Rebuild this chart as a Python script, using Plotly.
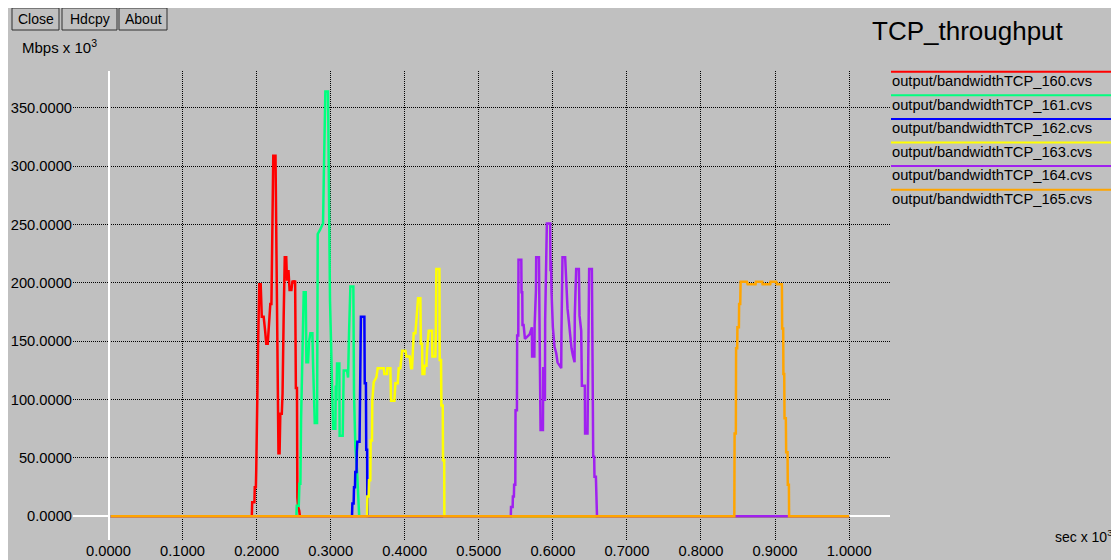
import plotly.graph_objects as go

# ---------------- data (time in seconds, throughput in Mbps x 10^3) ----------------
SERIES_NAMES = [
    "output/bandwidthTCP_160.cvs",
    "output/bandwidthTCP_161.cvs",
    "output/bandwidthTCP_162.cvs",
    "output/bandwidthTCP_163.cvs",
    "output/bandwidthTCP_164.cvs",
    "output/bandwidthTCP_165.cvs",
]

t160 = [3, 193.5, 194, 197, 197.5, 199, 199.5, 200.5, 202, 203.5, 205.5, 207, 209.5, 211.5, 213, 215, 216.5,
        218.5, 220, 221, 222.5, 225.5, 226.5, 227.5, 228.5, 229.5, 231, 232, 234, 235, 236.5, 238, 240, 241,
        243, 244.5, 247, 248.5, 250, 252, 253, 254.5, 255, 256, 257.5, 258.5, 1000]
v160 = [0, 0, 12, 12, 25, 25, 40, 94, 147, 199, 199, 171, 171, 159, 148, 148, 162,
        182, 182, 247, 309, 309, 225, 139, 139, 54, 54, 88, 88, 105, 170, 222, 222, 202,
        211, 194, 194, 202, 200, 202, 110, 110, 16, 8, 5, 0, 0]

t161 = [3, 253.7, 254.2, 256.9, 257.8, 259.1, 260, 261.8, 263.6, 266.3, 267.2, 269.5, 270.8, 272.6, 275.3,
        276.2, 277.5, 278.5, 281.6, 282, 282.5, 285.2, 289.7, 290.6, 291.5, 292.8, 296.4, 297.3, 299.1,
        300.5, 301.8, 303.2, 306.3, 306.8, 307.7, 308.6, 311.7, 312.1, 316.2, 316.7, 317.6, 322.1, 323.5,
        324.8, 326.6, 330.6, 331.5, 333.3, 335.6, 338.5, 1000]
v161 = [0, 0, 9, 9, 28, 28, 82, 138, 192, 192, 132, 132, 150, 157, 157,
        131, 105, 80, 80, 162, 242, 245, 251, 287, 325, 364, 364, 275, 185,
        149, 112, 75, 75, 112, 99, 131, 131, 69, 69, 108, 125, 125, 119,
        157, 197, 197, 105, 60, 39, 0, 0]

t162 = [3, 328.8, 329.3, 331, 331.5, 332.8, 333.2, 334.9, 335.3, 336, 339, 339.5, 340.8, 345.5, 346, 347.6,
        348, 349.2, 349.5, 1000]
v162 = [0, 0, 11, 11, 25, 25, 38, 38, 55, 64, 64, 118, 171, 171, 114, 114,
        57, 57, 0, 0]

t163 = [3, 349, 349.5, 351.3, 351.8, 353.5, 354, 355.8, 356.2, 358.1, 361.7, 363.5, 371.6, 372.5, 376.1,
        376.6, 380.6, 381.5, 386, 387.4, 390.5, 391.9, 394.1, 396.4, 400.9, 402.2, 406.7, 408.5, 409.9,
        412.1, 414.4, 415.7, 418, 421.1, 421.8, 423.4, 424, 426.5, 427, 429.2, 430.1, 432.4, 436.9, 437.3,
        441.4, 442, 442.3, 442.7, 446.8, 447.2, 449, 449.5, 451.3, 451.7, 453.3, 453.5, 1000]
v163 = [0, 0, 17, 17, 31, 31, 65, 65, 99, 115, 119, 127, 127, 122, 122,
        127, 127, 99, 99, 114, 114, 127, 127, 142, 142, 137, 137, 127, 127,
        157, 157, 172, 187, 187, 148, 148, 122, 122, 129, 129, 142, 159, 159, 137,
        137, 159, 187, 212, 212, 134, 134, 95, 95, 48, 48, 0, 0]

t164 = [3, 543.2, 543.5, 545.7, 546, 547.4, 547.7, 549.3, 549.6, 551.5, 551.8, 553.3, 553.6, 557.4, 557.7,
        558.7, 559, 560.5, 562.3, 565.9, 568.6, 571.7, 572, 575, 575.4, 577.2, 577.5, 581.2, 581.5, 582.6,
        583.4, 586.6, 587, 587.9, 588.3, 589.3, 589.6, 590.6, 591.9, 596.4, 596.8, 597.5, 598.2, 600,
        602.3, 604.5, 606.3, 611.3, 611.6, 612.6, 613, 616.6, 618, 619.8, 621.6, 623.4, 625.2, 627,
        629.3, 629.6, 631.5, 635.1, 636, 638.3, 639.2, 643.2, 643.5, 646.8, 647.2, 648.6, 649, 652.7,
        653.5, 654.5, 655.8, 656.2, 658.1, 658.5, 659.4, 659.6, 1000]
v164 = [0, 0, 8, 8, 17, 17, 27, 27, 91, 91, 155, 155, 220, 220, 192,
        192, 164, 164, 152, 154, 156, 162, 137, 137, 164, 194, 222, 222, 172, 124,
        74, 74, 127, 127, 100, 100, 168, 210, 251, 251, 210, 219, 192, 162,
        145, 140, 132, 127, 157, 189, 222, 222, 198, 178, 167, 155, 144, 138,
        132, 172, 212, 212, 172, 159, 112, 112, 71, 71, 117, 164, 212, 212,
        131, 51, 51, 34, 34, 17, 17, 0, 0]

t165 = [3, 845, 845.4, 847.1, 847.4, 848.9, 849.2, 851.2, 851.5, 853, 853.5, 862, 863, 873.7, 874.2, 882.7,
        883.2, 893.5, 894, 901.6, 902.5, 909.3, 909.6, 911, 911.3, 912.4, 912.8, 914.6, 915, 916.9, 917.2,
        918.7, 919, 1000]
v165 = [0, 0, 71, 71, 144, 144, 162, 162, 182, 182, 201, 201, 199, 199, 201, 201,
        199, 199, 201, 201, 199, 199, 161, 161, 122, 122, 84, 84, 55, 55, 27,
        27, 0, 0]

X_TICKS = [0, 0.1, 0.2, 0.3, 0.4, 0.5, 0.6, 0.7, 0.8, 0.9, 1.0]   # sec x 10^3
Y_TICKS = [0, 50, 100, 150, 200, 250, 300, 350]                    # Mbps x 10^3
SEC_PER_UNIT = 1000.0

# ---------------- styling ----------------
COLORS = ["#FF0000", "#00FF7F", "#0000FF", "#FFFF00", "#A020F0", "#FFA500"]
BG = "#C0C0C0"
FONT = "Liberation Sans, Arial, Helvetica, sans-serif"

PAGE_OFF = 8                                # default body margin of the html page
W, H = 1119 - PAGE_OFF, 560 - PAGE_OFF      # figure size
PL, PR, PT, PB = 73, 890, 71, 540           # plot area in page pixels
X0PX, XSCALE = 108.5, 740.6                 # page pixel of x=0, px per axis unit
Y0PX, YSCALE = 516.3, 1.1667                # page pixel of y=0, px per axis unit


def fx(p):
    return (p - PL) / (PR - PL)


def fy(p):
    return (PB - p) / (PB - PT)


series = [(t160, v160), (t161, v161), (t162, v162), (t163, v163), (t164, v164), (t165, v165)]

fig = go.Figure()
for name, (t, v), c in zip(SERIES_NAMES, series, COLORS):
    fig.add_trace(go.Scatter(
        x=[s / SEC_PER_UNIT for s in t], y=v, mode="lines", name=name,
        line=dict(color=c, width=2.5), showlegend=False, hoverinfo="skip"))

x_range = [(PL - X0PX) / XSCALE, (PR - X0PX) / XSCALE]
y_range = [(Y0PX - PB) / YSCALE, (Y0PX - PT) / YSCALE]

tickfont = dict(family=FONT, size=14.7, color="black")
fig.update_layout(
    width=W, height=H,
    margin=dict(l=PL - PAGE_OFF, r=W - (PR - PAGE_OFF), t=PT - PAGE_OFF, b=H - (PB - PAGE_OFF), pad=0),
    paper_bgcolor=BG, plot_bgcolor=BG,
    font=dict(family=FONT, color="black"),
    xaxis=dict(range=x_range, tickvals=X_TICKS, tickformat=".4f", showgrid=True,
               gridcolor="black", griddash="1px,1px", gridwidth=1,
               zeroline=True, zerolinecolor="white", zerolinewidth=2,
               ticks="", showline=False, tickfont=tickfont, automargin=False,
               fixedrange=True),
    yaxis=dict(range=y_range, tickvals=Y_TICKS, tickformat=".4f", showgrid=True,
               gridcolor="black", griddash="1px,1px", gridwidth=1,
               zeroline=True, zerolinecolor="white", zerolinewidth=2,
               ticks="", showline=False, tickfont=tickfont, automargin=False,
               fixedrange=True),
)

shapes = []
annotations = []

# custom legend: coloured line above each file name
for i, (name, c) in enumerate(zip(SERIES_NAMES, COLORS)):
    yl = 71.7 + 23.6 * i
    shapes.append(dict(type="line", xref="paper", yref="paper",
                       x0=fx(891), x1=fx(1116), y0=fy(yl), y1=fy(yl),
                       line=dict(color=c, width=2)))
    annotations.append(dict(text=name, xref="paper", yref="paper", x=fx(890),
                            y=fy(yl + 9.3), xanchor="left", yanchor="middle",
                            showarrow=False, font=dict(family=FONT, size=14.7, color="black")))

# title
annotations.append(dict(text="TCP_throughput", xref="paper", yref="paper", x=fx(968), y=fy(31),
                        xanchor="center", yanchor="middle", showarrow=False,
                        font=dict(family=FONT, size=26, color="black")))

# axis unit labels
annotations.append(dict(text="Mbps x 10<sup>3</sup>", xref="paper", yref="paper", x=fx(20), y=fy(46),
                        xanchor="left", yanchor="middle", showarrow=False,
                        font=dict(family=FONT, size=15, color="black")))
annotations.append(dict(text="sec x 10<sup>3</sup>", xref="paper", yref="paper", x=fx(1053), y=fy(536),
                        xanchor="left", yanchor="middle", showarrow=False,
                        font=dict(family=FONT, size=14, color="black")))

# buttons
for label, (bx0, bx1) in zip(["Close", "Hdcpy", "About"], [(12, 59), (62, 117), (119, 167)]):
    shapes.append(dict(type="rect", xref="paper", yref="paper",
                       x0=fx(bx0), x1=fx(bx1), y0=fy(8), y1=fy(30),
                       line=dict(color="#303030", width=1), fillcolor=BG))
    annotations.append(dict(text=label, xref="paper", yref="paper", x=fx((bx0 + bx1) / 2), y=fy(19.5),
                            xanchor="center", yanchor="middle", showarrow=False,
                            font=dict(family=FONT, size=14, color="black")))

fig.update_layout(shapes=shapes, annotations=annotations)

fig.write_html("out.html", config={"displayModeBar": False, "staticPlot": True})
